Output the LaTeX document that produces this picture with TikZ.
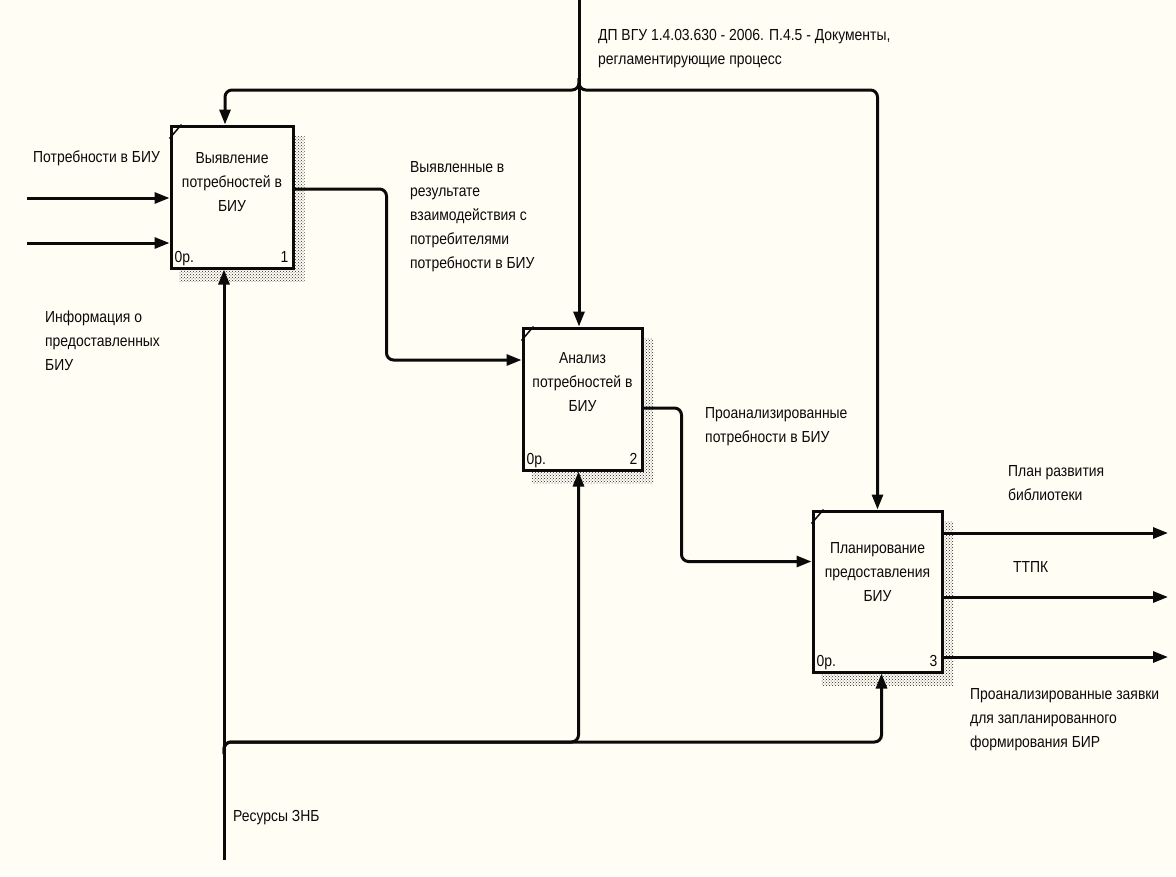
\documentclass[tikz,border=0pt]{standalone}
\usepackage{fontspec}
\setmainfont{Liberation Sans}[FakeStretch=0.87]
\usetikzlibrary{arrows.meta, positioning, patterns}
\definecolor{idefBg}{HTML}{FFFDF4}
\definecolor{idefInk}{HTML}{0A0A0A}
\pgfdeclarelayer{paper}
\pgfdeclarelayer{shade}
\pgfsetlayers{paper,shade,main}

\begin{document}
\begin{tikzpicture}[
      x=1pt, y=-1pt,
      every node/.style={font=\fontsize{16}{24}\selectfont, inner sep=0pt, text=idefInk},
      func/.style={draw=idefInk, line width=3pt, fill=idefBg},
      ftext/.style={align=center},
      lbl/.style={anchor=north west, align=left},
      flow/.style={-{Triangle[length=15pt, width=11pt]}, line width=3pt, draw=idefInk, rounded corners=7pt}
    ]
    \useasboundingbox (0,0) rectangle (1176,876);
    \begin{pgfonlayer}{paper}
      \fill[idefBg] (0,0) rectangle (1176,876);
    \end{pgfonlayer}

    % --- Functions ---
    \node[func, minimum width=122pt, minimum height=142pt] (b1) at (232,197) {};
    \node[func, minimum width=119pt, minimum height=142pt] (b2) at (582.5,399) {};
    \node[func, minimum width=129pt, minimum height=161pt] (b3) at (877.5,591.5) {};

    \node[ftext, below=28pt of b1.north] (t1) {Выявление\\потребностей в\\БИУ};
    \node[ftext, below=26pt of b2.north] (t2) {Анализ\\потребностей в\\БИУ};
    \node[ftext, below=33pt of b3.north] (t3) {Планирование\\предоставления\\БИУ};

    \foreach \b/\n in {b1/1, b2/2, b3/3} {
      \draw[line width=1.5pt, draw=idefInk] ([yshift=-14pt]\b.north west) -- ([xshift=12pt]\b.north west);
      \node[anchor=base west] (\b cost) at ([shift={(5pt,7pt)}]\b.south west) {0р.};
      \node[anchor=base east] (\b num) at ([shift={(-6pt,7pt)}]\b.south east) {\n};
    }

    \begin{pgfonlayer}{shade}
      \foreach \b in {b1, b2, b3}
        \fill[pattern=crosshatch dots, pattern color=black!85]
          ([shift={(10pt,-12pt)}]\b.south west) rectangle ([shift={(10pt,-12pt)}]\b.north east);
    \end{pgfonlayer}

    % --- Inputs ---
    \coordinate (in1) at (27,198);
    \coordinate (in2) at (27,243);
    \draw[flow] (in1) -- (in1 -| b1.west);
    \draw[flow] (in2) -- (in2 -| b1.west);
    \node[lbl] (lin1) at (33,151) {Потребности в БИУ};
    \node[lbl] (lin2) at (45,311) {Информация о\\предоставленных\\БИУ};

    % --- Between functions ---
    \draw[flow] ([yshift=8pt]b1.east) -- ++(92,0) |- ([yshift=39pt]b2.west);
    \draw[flow] ([yshift=-9pt]b2.east) -- ++(38,0) |- ([yshift=30pt]b3.west);
    \node[lbl] (l12) at (410,161) {Выявленные в\\результате\\взаимодействия с\\потребителями\\потребности в БИУ};
    \node[lbl] (l23) at (705,407) {Проанализированные\\потребности в БИУ};

    % --- Control ---
    \coordinate (ctl) at (579,0);
    \coordinate (cj) at (579,90);
    \draw[flow] (ctl) -- (ctl |- b2.north);
    \draw[flow] ([yshift=12pt]cj) -- (cj) -| ([xshift=-7pt]b1.north);
    \draw[flow] ([yshift=12pt]cj) -- (cj) -| (b3.north);
    \node[lbl] (lctl) at (598,29) {ДП ВГУ 1.4.03.630 - 2006. П.4.5 - Документы,\\регламентирующие процесс};

    % --- Mechanism ---
    \coordinate (mech) at (224,860);
    \coordinate (mj) at (224,742);
    \draw[flow] (mech) -- (mech |- b1.south);
    \draw[flow] ([yshift=-12pt]mj) -- (mj) -| ([xshift=-4pt]b2.south);
    \draw[flow] ([yshift=-12pt]mj) -- (mj) -| ([xshift=4pt]b3.south);
    \node[lbl] (lmech) at (233,810) {Ресурсы ЗНБ};

    % --- Outputs ---
    \coordinate (o1) at (1168,533);
    \coordinate (o2) at (1168,597);
    \coordinate (o3) at (1168,657);
    \draw[flow] (o1 -| b3.east) -- (o1);
    \draw[flow] (o2 -| b3.east) -- (o2);
    \draw[flow] (o3 -| b3.east) -- (o3);
    \node[lbl] (lo1) at (1008,465) {План развития\\библиотеки};
    \node[lbl] (lo2) at (1013,561) {ТТПК};
    \node[lbl] (lo3) at (970,688) {Проанализированные заявки\\для запланированного\\формирования БИР};
  \end{tikzpicture}
\end{document}
